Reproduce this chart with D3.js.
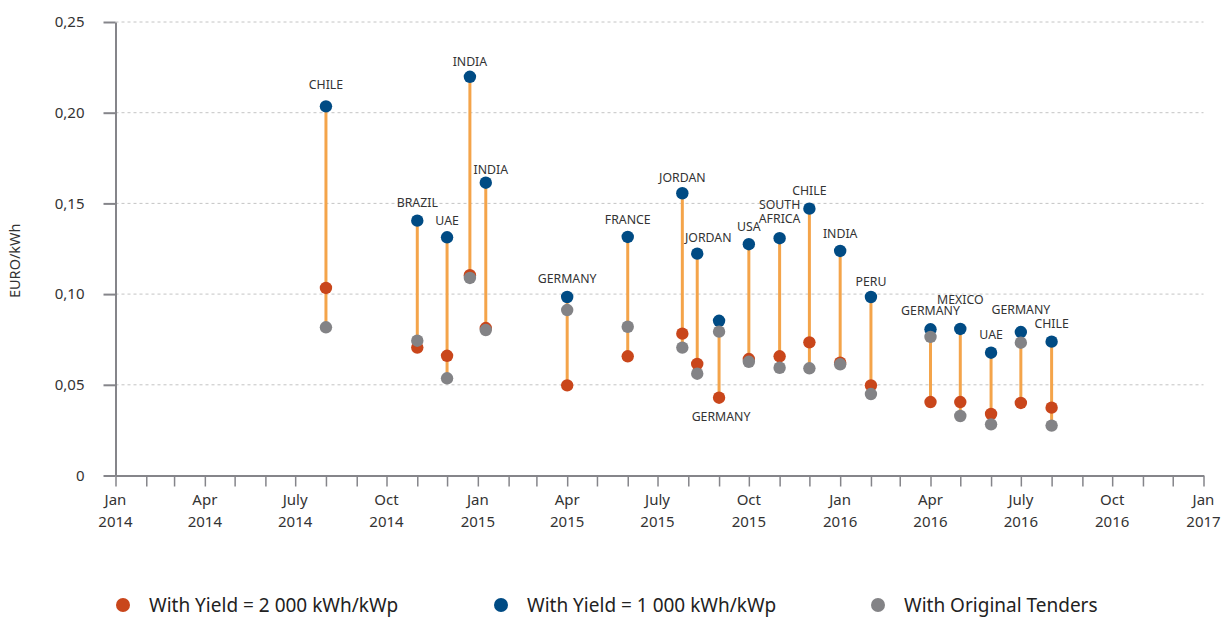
<!DOCTYPE html>
<html>
<head>
<meta charset="utf-8">
<script src="https://cdn.jsdelivr.net/npm/d3@7"></script>
<style>
  html, body { margin: 0; padding: 0; background: #fff; }
  svg { display: block; font-family: "Noto Sans", "Open Sans", sans-serif; }
</style>
</head>
<body>
<svg id="chart" width="1224" height="617"></svg>
<script>
// ---------- data ----------
const countries = ["CHILE","BRAZIL","UAE","INDIA","INDIA","GERMANY","FRANCE","JORDAN","JORDAN","GERMANY",
                   "USA","SOUTH AFRICA","CHILE","INDIA","PERU","GERMANY","MEXICO","UAE","GERMANY","CHILE"];
const dates = ["2014-08-01","2014-11-01","2014-12-01","2014-12-24","2015-01-09","2015-04-01","2015-06-01",
               "2015-07-26","2015-08-10","2015-09-01","2015-10-01","2015-11-01","2015-12-01","2016-01-01",
               "2016-02-01","2016-04-01","2016-05-01","2016-06-01","2016-07-01","2016-08-01"];
const yield1000 = [0.2035,0.1405,0.1313,0.2198,0.1614,0.0984,0.1315,0.1556,0.1223,0.0853,
                   0.1275,0.1308,0.1471,0.1238,0.0984,0.0806,0.0808,0.0677,0.0791,0.0738];
const yield2000 = [0.1034,0.0705,0.0660,0.1104,0.0813,0.0497,0.0657,0.0782,0.0615,0.0429,
                   0.0642,0.0657,0.0734,0.0622,0.0497,0.0405,0.0405,0.0339,0.0400,0.0374];
const original  = [0.0817,0.0743,0.0536,0.1089,0.0802,0.0912,0.0820,0.0705,0.0561,0.0793,
                   0.0627,0.0594,0.0591,0.0613,0.0449,0.0764,0.0328,0.0282,0.0732,0.0275];
const yTicks = [0, 0.05, 0.10, 0.15, 0.20, 0.25];
const quarterNames = ["Jan","Apr","July","Oct"];
const seriesNames = ["With Yield = 2 000 kWh/kWp","With Yield = 1 000 kWh/kWp","With Original Tenders"];
const yTitle = "EURO/kWh";

// ---------- label placement (layout only) ----------
// [dx, dy] of the label centre relative to the blue point; "below" means relative to the lowest point
const labelPlace = [[0,-22],[0,-19],[0,-17],[0,-16],[5,-14],[0,-19],[0,-18],[0,-16],[11,-17],[2,18,"below"],
                    [0,-18],[0,-20],[0,-19],[0,-18],[0,-16],[0,-19],[0,-30],[0,-19],[0,-23],[0,-19]];

// ---------- setup ----------
const colors = { orange: "#c9461b", blue: "#004b84", grey: "#838386", line: "#f4a44a", text: "#333333", axis: "#85858a" };
const svg = d3.select("#chart");
const parse = d3.timeParse("%Y-%m-%d");
const x = d3.scaleTime().domain([new Date(2014,0,1), new Date(2017,0,1)]).range([115.5, 1203.5]);
const y = d3.scaleLinear().domain([0, 0.25]).range([475.5, 22]);

const data = countries.map((c, i) => ({
  country: c, date: parse(dates[i]), v1000: yield1000[i], v2000: yield2000[i], orig: original[i], place: labelPlace[i]
}));

// gridlines
svg.append("g").selectAll("line").data(yTicks.filter(d => d > 0)).join("line")
  .attr("x1", x.range()[0]).attr("x2", x.range()[1])
  .attr("y1", d => y(d)).attr("y2", d => y(d))
  .attr("stroke", "#c4c4c4").attr("stroke-width", 1).attr("stroke-dasharray", "3,3");

// y axis
const fmt = d => d === 0 ? "0" : d3.format(".2f")(d).replace(".", ",");
const yAxis = svg.append("g").attr("transform", `translate(${x.range()[0]},0)`)
  .call(d3.axisLeft(y).tickValues(yTicks).tickFormat(fmt).tickSize(12).tickSizeOuter(0).tickPadding(19));
yAxis.select(".domain").attr("stroke", colors.axis).attr("stroke-width", 2);
yAxis.selectAll(".tick line").attr("stroke", colors.axis).attr("stroke-width", 2);
yAxis.selectAll(".tick text").attr("fill", colors.text).style("font-size", "15px").style("font-family", "'Noto Sans', sans-serif");

// x axis
const xAxis = svg.append("g").attr("transform", `translate(0,${y(0)})`)
  .call(d3.axisBottom(x).ticks(d3.timeMonth.every(1)).tickFormat("").tickSize(11).tickSizeOuter(0));
xAxis.select(".domain").attr("stroke", colors.axis).attr("stroke-width", 2);
xAxis.selectAll(".tick line").attr("stroke", colors.axis).attr("stroke-width", 1.5);

const quarters = d3.timeMonth.every(3).range(new Date(2014,0,1), new Date(2017,0,2));
const ql = svg.append("g").selectAll("text").data(quarters).join("text")
  .attr("x", d => x(d)).attr("text-anchor", "middle").attr("fill", colors.text)
  .style("font-size", "15px");
ql.append("tspan").attr("x", d => x(d)).attr("y", y(0) + 29).text(d => quarterNames[Math.floor(d.getMonth() / 3)]);
ql.append("tspan").attr("x", d => x(d)).attr("y", y(0) + 51).text(d => d.getFullYear());

// y title
svg.append("text").attr("transform", `translate(20,${(y(0)+y(0.25))/2 + 12}) rotate(-90)`)
  .attr("text-anchor", "middle").attr("fill", colors.text).style("font-size", "14.5px").text(yTitle);

// connecting lines (max to min)
svg.append("g").selectAll("line").data(data).join("line")
  .attr("x1", d => x(d.date)).attr("x2", d => x(d.date))
  .attr("y1", d => y(Math.max(d.v1000, d.v2000, d.orig)))
  .attr("y2", d => y(Math.min(d.v1000, d.v2000, d.orig)))
  .attr("stroke", colors.line).attr("stroke-width", 3);

// dots
const r = 6.2;
[["v1000", colors.blue], ["v2000", colors.orange], ["orig", colors.grey]].forEach(([k, c]) => {
  svg.append("g").selectAll("circle").data(data).join("circle")
    .attr("cx", d => x(d.date)).attr("cy", d => y(d[k])).attr("r", r).attr("fill", c);
});

// country labels
svg.append("g").selectAll("text").data(data).join("text")
  .attr("text-anchor", "middle").attr("fill", colors.text).style("font-size", "12.3px")
  .attr("dominant-baseline", "central")
  .each(function(d) {
    const [dx, dy, mode] = d.place;
    const cx = x(d.date) + dx;
    const baseY = mode === "below" ? y(Math.min(d.v1000, d.v2000, d.orig)) : y(d.v1000);
    const words = d.country === "SOUTH AFRICA" ? ["SOUTH", "AFRICA"] : [d.country];
    const sel = d3.select(this);
    words.forEach((w, j) => {
      sel.append("tspan").attr("x", cx)
        .attr("y", baseY + dy - (words.length - 1 - j) * 14.5)
        .text(w);
    });
  });

// legend
const legendX = [123, 501, 878];
const legendColors = [colors.orange, colors.blue, colors.grey];
const lg = svg.append("g").selectAll("g").data(seriesNames).join("g")
  .attr("transform", (d, i) => `translate(${legendX[i]},605)`);
lg.append("circle").attr("r", 7).attr("fill", (d, i) => legendColors[i]);
lg.append("text").attr("x", 26).attr("dominant-baseline", "central").attr("fill", "#222")
  .style("font-size", "19px").text(d => d);
</script>
</body>
</html>
